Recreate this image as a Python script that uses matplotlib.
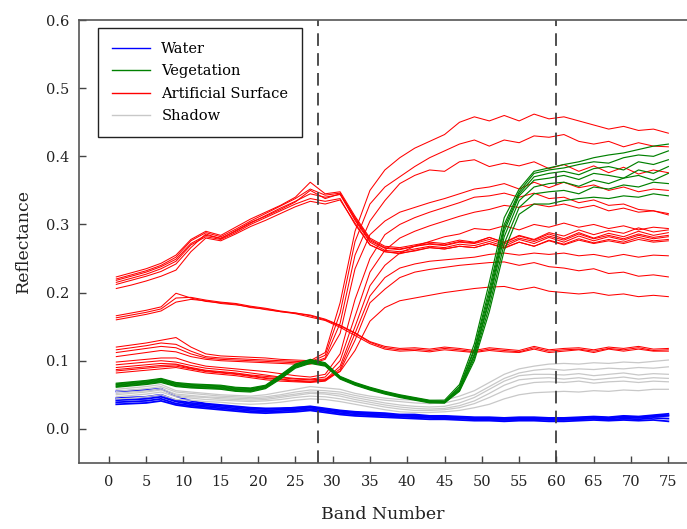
import matplotlib
matplotlib.use('Agg')
import matplotlib.pyplot as plt
import numpy as np

bands = list(range(1, 76, 2))

# reflectance values in thousandths, one list per spectrum
water = [
    [45,46,47,50,42,38,36,34,32,30, 29,30,31,33,30,27,25,24,23,21, 21,19,19,18,17,17,16,17,17,16, 16,17,18,17,19,18,20,22],
    [42,43,44,47,40,36,34,32,30,28, 27,28,29,31,28,25,23,22,21,19, 19,17,17,16,15,15,14,15,15,14, 14,15,16,15,17,16,18,19],
    [39,40,41,44,37,34,32,30,28,26, 25,26,27,29,26,23,21,20,19,18, 17,16,15,15,14,13,13,13,14,13, 13,14,15,13,15,14,16,15],
    [36,37,38,41,35,32,30,28,26,24, 23,24,25,27,24,21,19,18,17,16, 15,14,14,13,12,12,11,12,12,11, 11,12,13,12,13,12,13,11],
    [55,56,57,59,48,41,37,35,33,31, 30,30,31,32,29,26,24,22,21,20, 19,18,18,17,16,16,15,16,16,15, 15,16,17,16,18,17,19,20],
]

vegetation = [
    [67,69,71,74,68,66,65,64,61,60, 64,79,95,102,97,77,68,61,55,50, 46,42,42,65,125,215,310,352,378,383, 388,392,398,402,405,410,415,418],
    [65,67,69,72,66,64,63,62,59,58, 63,77,93,100,95,76,67,60,54,49, 45,41,40,62,118,205,300,348,375,380, 383,388,392,390,398,402,400,408],
    [64,66,68,71,65,63,62,61,58,57, 62,76,92,99,94,75,66,59,53,48, 44,40,39,60,115,198,295,345,370,375, 378,373,382,385,380,392,388,395],
    [63,65,67,70,64,62,61,60,57,56, 61,75,91,98,93,74,65,58,52,47, 43,39,39,58,110,192,290,342,365,368, 372,366,375,372,368,380,375,385],
    [62,64,66,69,63,61,60,59,56,55, 60,74,90,97,93,74,65,58,52,47, 43,39,38,57,108,188,282,335,355,360, 362,356,365,360,368,372,365,375],
    [66,68,70,73,67,65,64,63,60,59, 63,78,94,101,96,76,67,60,54,49, 45,41,40,56,104,180,272,325,345,348, 350,345,355,352,358,355,362,360],
    [61,63,65,68,62,60,59,58,55,54, 59,73,89,96,92,73,64,57,51,46, 42,38,38,55,100,172,262,315,330,330, 335,338,340,338,342,340,345,342],
]

artificial = [
    # bright roofs, high in the visible
    [223,229,235,243,255,278,290,284,296,308, 318,328,340,362,345,348,312,280,268,266, 270,274,272,277,274,281,273,283,277,286, 279,288,280,287,282,290,284,288],
    [218,224,230,238,249,272,284,280,290,302, 313,324,334,345,340,344,306,274,262,260, 264,268,266,271,269,275,268,278,272,281, 274,283,276,282,277,284,279,282],
    [215,221,227,235,246,270,282,278,288,300, 310,320,330,338,334,338,300,270,260,258, 261,266,264,268,266,272,266,274,268,277, 271,279,273,278,274,281,276,278],
    [212,218,224,231,242,266,286,279,291,303, 312,322,333,350,338,345,310,278,266,264, 268,271,269,274,272,278,271,280,275,283, 277,286,279,284,279,286,281,284],
    [206,211,217,224,233,260,280,276,286,297, 306,316,326,334,330,336,302,270,260,257, 262,266,264,268,266,272,265,274,268,276, 270,277,272,276,272,278,274,276],
    [220,226,232,240,252,276,288,282,293,305, 316,327,338,352,343,346,308,276,265,263, 268,272,270,275,273,281,274,284,278,288, 283,292,285,291,287,295,289,292],
    # mid curves, falling towards the infrared
    [163,167,171,176,192,193,189,186,184,180, 177,173,170,166,160,151,140,127,119,116, 117,115,118,116,113,117,115,113,119,114, 116,117,114,118,116,119,115,116],
    [160,164,168,173,186,190,188,184,182,179, 175,172,169,164,159,149,137,125,117,114, 115,113,116,114,112,115,113,112,117,112, 114,116,112,117,114,117,114,114],
    [166,170,174,179,199,192,187,185,183,178, 176,172,170,167,161,152,141,128,121,118, 119,117,120,118,115,119,117,115,121,116, 118,119,116,120,118,121,117,118],
    # low in the visible, jumping up after band 30
    [120,123,126,130,134,120,110,107,106,105, 104,102,101,100,112,185,290,350,380,398, 412,422,432,450,458,452,460,452,462,455, 458,452,446,440,444,438,440,434],
    [116,119,122,126,124,114,106,104,103,102, 101,100,99,98,108,170,275,330,355,370, 385,398,408,418,424,415,424,420,430,428, 432,422,418,422,414,420,415,414],
    [112,115,118,121,119,110,104,102,101,100, 99,98,97,96,104,155,255,305,335,360, 372,380,378,392,395,385,390,386,392,382, 388,378,386,376,384,374,380,376],
    [106,109,112,115,113,106,102,100,99,98, 97,96,95,95,102,140,235,285,305,318, 325,332,338,345,352,355,360,352,362,354, 362,354,358,350,355,348,352,350],
    [98,100,102,104,104,97,92,90,88,86, 84,81,78,76,80,110,190,250,285,300, 310,318,325,332,340,342,346,340,346,338, 340,332,336,328,330,322,320,314],
    [94,96,98,100,98,93,89,87,85,82, 79,76,74,73,76,100,165,230,262,280, 290,298,305,312,318,322,328,325,330,326, 330,324,328,320,324,318,320,316],
    [87,89,91,93,94,89,85,83,81,78, 75,73,71,70,72,92,150,210,240,258, 268,275,282,286,294,292,298,292,300,296, 302,296,300,294,298,292,296,294],
    [85,87,89,91,92,88,84,82,80,77, 74,72,70,69,71,88,140,195,222,236, 242,246,248,250,252,256,258,255,258,256, 258,254,256,252,256,252,255,254],
    [82,84,86,88,90,86,82,80,78,75, 72,70,69,68,70,85,130,185,205,222, 230,234,237,240,242,244,245,240,244,238, 236,232,235,228,230,224,226,223],
    [90,92,94,96,95,90,86,84,82,79, 77,75,73,72,73,84,115,158,178,188, 192,196,200,203,206,208,209,204,208,202, 200,198,200,196,198,194,196,194],
]

shadow = [
    [58,60,62,65,56,54,52,50,49,48, 50,54,58,62,60,58,52,48,45,43, 42,41,42,48,56,68,80,88,92,95, 96,95,97,96,98,97,99,101],
    [55,57,59,62,54,52,50,48,47,46, 47,50,54,57,56,54,49,45,42,40, 38,37,38,43,50,62,74,82,86,88, 86,88,87,89,88,90,89,91],
    [52,54,56,59,51,49,47,46,45,44, 45,48,51,54,53,51,46,42,38,35, 33,32,33,38,46,58,70,78,80,80, 79,81,78,80,82,79,81,80],
    [50,52,54,57,49,47,46,44,43,42, 43,46,49,52,51,48,43,39,35,32, 30,29,30,34,41,52,64,72,74,75, 73,75,72,74,76,73,75,74],
    [47,49,51,54,47,45,43,42,41,40, 41,43,46,48,47,44,40,36,32,29, 27,27,28,31,37,46,56,64,68,69, 68,70,67,69,70,68,70,69],
    [44,45,47,50,43,42,40,39,37,36, 37,39,42,44,43,40,36,32,28,25, 24,24,25,27,31,36,44,50,53,54, 55,54,56,55,57,56,58,58],
]

dashed_bands = [28, 60]

plt.rcParams['font.family'] = ['DejaVu Serif']

fig = plt.figure(figsize=(6.87, 5.29), dpi=100)
ax = fig.add_axes([0.115, 0.125, 0.885, 0.837])

h_water = h_veg = h_art = h_shadow = None
for s in water:
    h_water, = ax.plot(bands, np.array(s) / 1000, color='#0000ff', lw=1.3)
for s in shadow:
    h_shadow, = ax.plot(bands, np.array(s) / 1000, color='#c8c8c8', lw=0.9)
for s in artificial:
    h_art, = ax.plot(bands, np.array(s) / 1000, color='#ff0000', lw=0.75)
for s in vegetation:
    h_veg, = ax.plot(bands, np.array(s) / 1000, color='#008000', lw=0.85)

for b in dashed_bands:
    ax.axvline(b, color='#404040', lw=1.3, ls=(0, (7, 4)))

ax.set_xlim(-4, 77.5)
ax.set_ylim(-0.05, 0.6)
ax.set_xticks(range(0, 76, 5))
ax.set_yticks([0.0, 0.1, 0.2, 0.3, 0.4, 0.5, 0.6])
ax.set_yticklabels(['0.0', '0.1', '0.2', '0.3', '0.4', '0.5', '0.6'])
ax.tick_params(direction='in', length=5, width=1, color='#444444',
               labelsize=10.5, labelcolor='#222222')
ax.tick_params(axis='x', pad=9)
ax.tick_params(axis='y', pad=7)

ax.spines['right'].set_visible(False)
for side in ['left', 'bottom', 'top']:
    ax.spines[side].set_color('#555555')
    ax.spines[side].set_linewidth(1.2)

ax.set_xlabel('Band Number', fontsize=12.5, labelpad=12, color='#222222')
ax.set_ylabel('Reflectance', fontsize=12.5, labelpad=10, color='#222222')

leg = ax.legend([h_water, h_veg, h_art, h_shadow],
                ['Water', 'Vegetation', 'Artificial Surface', 'Shadow'],
                loc='upper left', bbox_to_anchor=(0.031, 0.982), borderaxespad=0,
                fontsize=10.5, handlelength=2.6, handletextpad=0.8,
                labelspacing=0.58, borderpad=0.95,
                fancybox=False, framealpha=1, edgecolor='#222222')
leg.get_frame().set_linewidth(1.0)
for line in leg.get_lines():
    line.set_linewidth(1.0)

fig.savefig('out.png', dpi=100)
